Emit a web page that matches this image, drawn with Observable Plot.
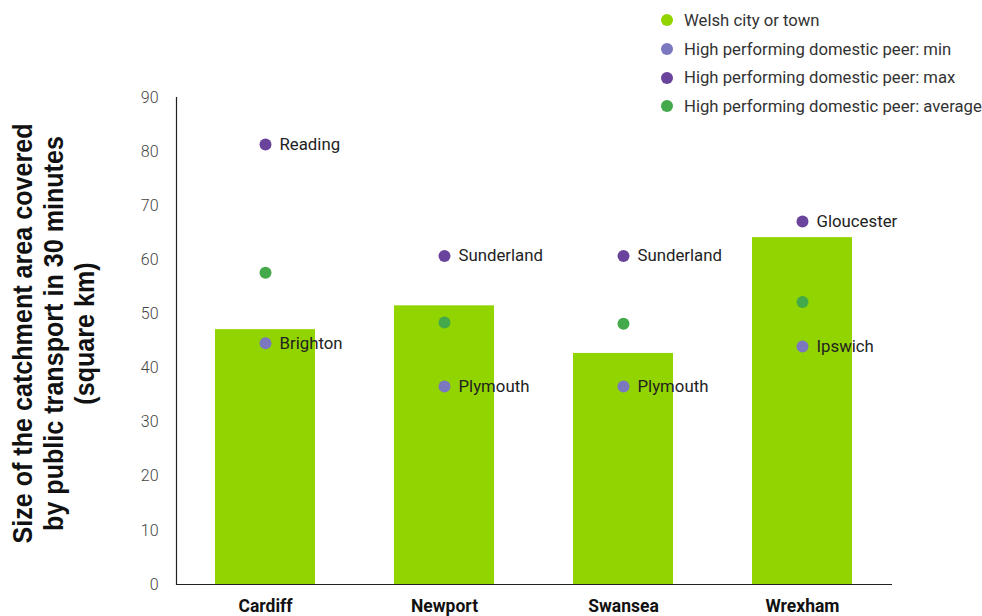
<!DOCTYPE html>
<html>
<head>
<meta charset="utf-8">
<script src="https://cdn.jsdelivr.net/npm/d3@7"></script>
<script src="https://cdn.jsdelivr.net/npm/@observablehq/plot@0.6"></script>
<style>
  html, body { margin: 0; padding: 0; background: #fff; }
  #wrap { position: relative; width: 982px; height: 616px; overflow: hidden; }
  #legend { position: absolute; left: 661px; top: 6px; font-family: Roboto, "Noto Sans", sans-serif; font-size: 16.7px; color: #333; }
  #legend .row { display: flex; align-items: center; height: 28.7px; white-space: nowrap; }
  #legend .dot { width: 12px; height: 12px; border-radius: 50%; margin-right: 11px; flex: none; }
  #ytitle { position: absolute; width: 460px; left: -176px; top: 287px; height: 93px;
    font-family: "Liberation Sans", Arial, sans-serif; font-weight: bold; font-size: 27px; line-height: 31px;
    color: #111; text-align: center; white-space: pre; transform: rotate(-90deg) scaleX(0.93); transform-origin: center; }
</style>
</head>
<body>
<div id="wrap">
  <div id="chart"></div>
  <div id="ytitle"></div>
  <div id="legend"></div>
</div>
<script>
const cities = ["Cardiff", "Newport", "Swansea", "Wrexham"];
const welsh = [47.1, 51.5, 42.7, 64.1];
const peerMin = [44.6, 36.6, 36.6, 44.0];
const peerMinName = ["Brighton", "Plymouth", "Plymouth", "Ipswich"];
const peerMax = [81.3, 60.7, 60.7, 67.1];
const peerMaxName = ["Reading", "Sunderland", "Sunderland", "Gloucester"];
const peerAvg = [57.6, 48.4, 48.2, 52.2];
const yTicks = [0, 10, 20, 30, 40, 50, 60, 70, 80, 90];
const seriesNames = ["Welsh city or town", "High performing domestic peer: min", "High performing domestic peer: max", "High performing domestic peer: average"];
const seriesColors = ["#92d400", "#7b78c0", "#6a449c", "#44a94b"];
const yTitle = "Size of the catchment area covered\nby public transport in 30 minutes\n(square km)";

const bars = cities.map((c, i) => ({city: c, value: welsh[i]}));
const mins = cities.map((c, i) => ({city: c, value: peerMin[i], name: peerMinName[i]}));
const maxs = cities.map((c, i) => ({city: c, value: peerMax[i], name: peerMaxName[i]}));
const avgs = cities.map((c, i) => ({city: c, value: peerAvg[i]}));

const labelFont = "Roboto, 'Noto Sans', sans-serif";

const chart = Plot.plot({
  width: 982,
  height: 616,
  marginLeft: 176,
  marginRight: 90,
  marginTop: 97,
  marginBottom: 32,
  style: {fontFamily: labelFont, background: "#fff"},
  x: {domain: cities, paddingInner: 0.44, paddingOuter: 0.22, label: null},
  y: {domain: [0, 90], label: null},
  marks: [
    Plot.barY(bars, {x: "city", y: "value", fill: seriesColors[0]}),
    Plot.axisY({ticks: yTicks, tickSize: 0, tickPadding: 18, fontSize: 16, fill: "#444", fontWeight: 300, label: null}),
    Plot.axisX({tickSize: 0, tickPadding: 15, fontSize: 17.5, fontWeight: "bold", fill: "#111", label: null}),
    Plot.ruleY([0], {stroke: "#222", strokeWidth: 1.2}),
    Plot.frame({anchor: "left", stroke: "#222", strokeWidth: 1.2}),
    Plot.dot(avgs, {x: "city", y: "value", r: 6, fill: seriesColors[3]}),
    Plot.dot(mins, {x: "city", y: "value", r: 6, fill: seriesColors[1]}),
    Plot.dot(maxs, {x: "city", y: "value", r: 6, fill: seriesColors[2]}),
    Plot.text(mins, {x: "city", y: "value", text: "name", dx: 14, textAnchor: "start", fontSize: 16.8, fill: "#222"}),
    Plot.text(maxs, {x: "city", y: "value", text: "name", dx: 14, textAnchor: "start", fontSize: 16.8, fill: "#222"})
  ]
});
document.getElementById("chart").appendChild(chart);

document.getElementById("ytitle").textContent = yTitle;

const legend = document.getElementById("legend");
seriesNames.forEach((n, i) => {
  const row = document.createElement("div");
  row.className = "row";
  const dot = document.createElement("span");
  dot.className = "dot";
  dot.style.background = seriesColors[i];
  const t = document.createElement("span");
  t.textContent = n;
  row.appendChild(dot);
  row.appendChild(t);
  legend.appendChild(row);
});
</script>
</body>
</html>
